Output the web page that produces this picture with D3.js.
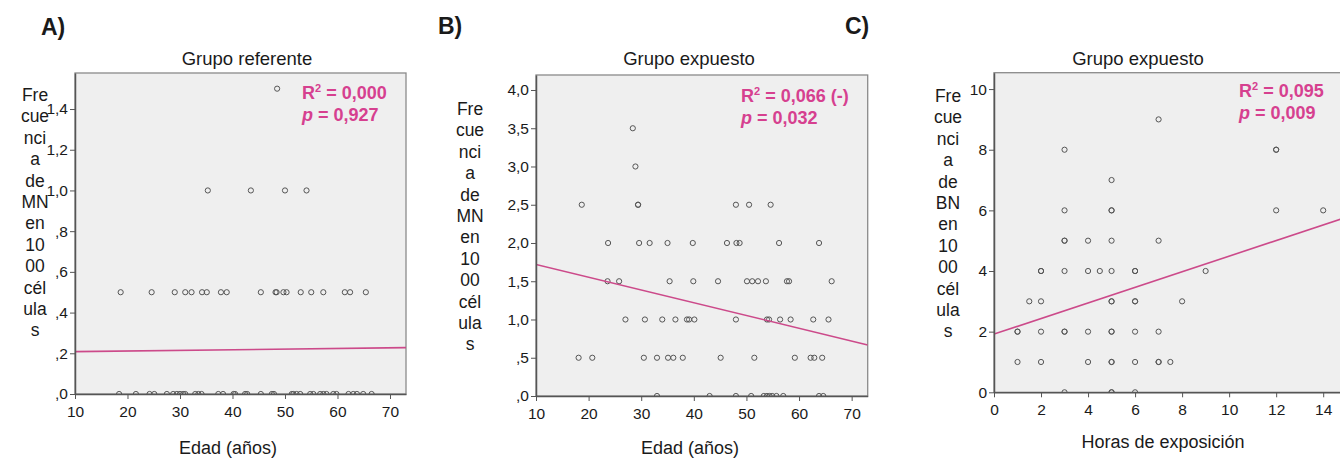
<!DOCTYPE html>
<html>
<head>
<meta charset="utf-8">
<script src="https://cdn.jsdelivr.net/npm/d3@7"></script>
<style>
  body { margin: 0; background: #fff; }
  svg text { font-family: "Liberation Sans", Arial, sans-serif; fill: #1a1a1a; }
  .tick line, .domain { stroke: #555; }
  .pt { fill: none; stroke: #555; stroke-width: 1; }
  .fit { fill: none; stroke: #cc4a8a; stroke-width: 1.6; }
  .stat { fill: #d6408f !important; font-weight: bold; font-size: 18px; }
</style>
</head>
<body>
<div id="chart"></div>
<script>
// ---- data ----

// A) Grupo referente: MN frequency levels and the ages found on each level
var refLevels = [1.5, 1.0, 0.5, 0.0];
var refAges = [
  [48.5],
  [35.3, 43.5, 50.0, 54.1],
  [18.7, 24.6, 29.0, 31.0, 32.2, 34.2, 35.1, 37.8, 38.9, 45.4, 48.2, 48.4, 49.7, 50.3, 53.0, 55.0, 57.3, 61.4, 62.4, 65.4],
  [18.4, 21.6, 24.2, 25.1, 27.5, 28.7, 29.4, 30.0, 30.6, 31.0, 32.9, 33.5, 34.1, 37.3, 38.2, 40.2, 40.5, 42.4, 42.8, 45.4,
   47.5, 47.9, 51.3, 51.6, 52.2, 52.9, 54.8, 55.4, 56.7, 57.3, 57.9, 59.2, 59.8, 62.1, 63.0, 63.7, 64.9, 66.5]
];
var refFit = {intercept: 0.205, slope: 0.00031};

// B) Grupo expuesto, MN vs age
var expLevels = [3.5, 3.0, 2.5, 2.0, 1.5, 1.0, 0.5, 0.0];
var expAges = [
  [28.4],
  [28.9],
  [18.7, 29.4, 29.4, 48.0, 50.5, 54.6],
  [23.7, 29.6, 31.6, 35.0, 39.8, 46.3, 48.1, 48.7, 56.2, 63.8],
  [23.6, 25.8, 35.4, 39.9, 44.6, 50.1, 51.1, 52.2, 53.7, 57.7, 58.1, 66.2],
  [27.0, 30.7, 34.0, 36.5, 38.7, 39.1, 40.1, 48.0, 53.9, 54.3, 56.4, 58.4, 62.7, 65.6],
  [18.1, 20.7, 30.5, 33.0, 35.1, 36.1, 37.9, 45.1, 51.5, 59.2, 62.2, 62.9, 64.4],
  [33.0, 43.0, 48.0, 50.9, 53.3, 53.9, 54.4, 54.9, 55.7, 57.0, 63.8, 64.6]
];
var expFit = {intercept: 1.887, slope: -0.0167};

// C) Grupo expuesto, BN vs hours of exposure
var bnLevels = [9, 8, 7, 6, 5, 4, 3, 2, 1, 0];
var bnHours = [
  [7],
  [3, 12, 12],
  [5],
  [3, 5, 5, 12, 14],
  [3, 3, 4, 5, 7],
  [2, 2, 3, 4, 4.5, 5, 6, 6, 9],
  [1.5, 2, 5, 5, 6, 6, 8],
  [1, 1, 2, 3, 3, 4, 5, 5, 6, 7],
  [1, 2, 4, 5, 5, 6, 7, 7, 7.5],
  [3, 5, 5, 6]
];
var bnFit = {intercept: 1.92, slope: 0.257};

var mnLabel = ["Fre", "cue", "nci", "a", "de", "MN", "en", "10", "00", "cél", "ula", "s"];
var bnLabel = ["Fre", "cue", "nci", "a", "de", "BN", "en", "10", "00", "cél", "ula", "s"];

// flatten levels + x values into point objects
function toPoints(levels, xs) {
  var out = [];
  levels.forEach(function(lv, i) {
    xs[i].forEach(function(x) { out.push({x: x, y: lv}); });
  });
  return out;
}

// SPSS style tick labels: ",4" , "1,4"
function spssFmt(d) {
  var s = d3.format(".1f")(d).replace(".", ",");
  if (s.indexOf("0,") === 0) s = s.slice(1);
  return s;
}

var svg = d3.select("#chart").append("svg")
    .attr("width", 1340)
    .attr("height", 458);

var panels = [
  {id: "a", letter: "A)", letterX: 41, letterY: 35, title: "Grupo referente", titleX: 247, titleY: 65,
   left: 75, right: 406, top: 73, bottom: 394,
   xDomain: [10, 73.05], yDomain: [0, 1.577], xTicks: d3.range(10, 71, 10), yTicks: d3.range(0, 1.41, 0.2),
   yFmt: spssFmt, points: toPoints(refLevels, refAges), fit: refFit,
   ylab: mnLabel, ylabX: 35, ylabY: 101, xlab: "Edad (años)", xlabX: 228, xlabY: 454,
   r2: "0,000", p: "0,927", statX: 302, statY: 99},
  {id: "b", letter: "B)", letterX: 438, letterY: 34, title: "Grupo expuesto", titleX: 689, titleY: 65,
   left: 536, right: 867.7, top: 75, bottom: 396,
   xDomain: [10, 73.05], yDomain: [0, 4.196], xTicks: d3.range(10, 71, 10), yTicks: d3.range(0, 4.01, 0.5),
   yFmt: spssFmt, points: toPoints(expLevels, expAges), fit: expFit,
   ylab: mnLabel, ylabX: 470, ylabY: 115, xlab: "Edad (años)", xlabX: 690, xlabY: 454,
   r2: "0,066 (-)", p: "0,032", statX: 741, statY: 102},
  {id: "c", letter: "C)", letterX: 845, letterY: 34, title: "Grupo expuesto", titleX: 1138, titleY: 65,
   left: 994, right: 1342, top: 72.7, bottom: 392.3,
   xDomain: [0, 14.8], yDomain: [0, 10.54], xTicks: d3.range(0, 15, 2), yTicks: d3.range(0, 11, 2),
   yFmt: d3.format("d"), points: toPoints(bnLevels, bnHours), fit: bnFit,
   ylab: bnLabel, ylabX: 948, ylabY: 102, xlab: "Horas de exposición", xlabX: 1163, xlabY: 448,
   r2: "0,095", p: "0,009", statX: 1239, statY: 97}
];

panels.forEach(drawPanel);

function drawPanel(c) {
  var x = d3.scaleLinear().domain(c.xDomain).range([c.left, c.right]);
  var y = d3.scaleLinear().domain(c.yDomain).range([c.bottom, c.top]);

  var g = svg.append("g").attr("class", "panel-" + c.id);

  // panel letter
  g.append("text")
    .attr("x", c.letterX).attr("y", c.letterY)
    .style("font-size", "23px").style("font-weight", "bold")
    .text(c.letter);

  // title
  g.append("text")
    .attr("x", c.titleX).attr("y", c.titleY)
    .attr("text-anchor", "middle")
    .style("font-size", "18.5px")
    .text(c.title);

  // plot background / frame
  g.append("rect")
    .attr("x", c.left).attr("y", c.top)
    .attr("width", c.right - c.left).attr("height", c.bottom - c.top)
    .attr("fill", "#efefef")
    .attr("stroke", "#8a8a8a")
    .attr("stroke-width", 1.3);

  // clip so points sitting on 0 are cut in half like the original
  svg.append("clipPath").attr("id", "clip-" + c.id)
    .append("rect")
    .attr("x", c.left).attr("y", c.top)
    .attr("width", c.right - c.left).attr("height", c.bottom - c.top);

  var plot = g.append("g").attr("clip-path", "url(#clip-" + c.id + ")");

  plot.selectAll(".pt")
    .data(c.points)
    .enter().append("circle")
    .attr("class", "pt")
    .attr("cx", function(d) { return x(d.x); })
    .attr("cy", function(d) { return y(d.y); })
    .attr("r", 2.6);

  // linear fit line
  var fx = c.xDomain;
  plot.append("line")
    .attr("class", "fit")
    .attr("x1", x(fx[0])).attr("y1", y(c.fit.intercept + c.fit.slope * fx[0]))
    .attr("x2", x(fx[1])).attr("y2", y(c.fit.intercept + c.fit.slope * fx[1]));

  // axes
  g.append("g")
    .attr("transform", "translate(" + c.left + ",0)")
    .call(d3.axisLeft(y).tickValues(c.yTicks).tickFormat(c.yFmt).tickSize(5).tickSizeOuter(0).tickPadding(2))
    .call(function(a) {
      a.selectAll("text").style("font-size", "15.5px").attr("fill", "#1a1a1a");
      a.select(".domain").attr("stroke-width", 1.5);
    });

  g.append("g")
    .attr("transform", "translate(0," + c.bottom + ")")
    .call(d3.axisBottom(x).tickValues(c.xTicks).tickFormat(d3.format("d")).tickSize(5).tickSizeOuter(0).tickPadding(7))
    .call(function(a) {
      a.selectAll("text").style("font-size", "15.5px").attr("fill", "#1a1a1a");
      a.select(".domain").attr("stroke-width", 1.5);
    });

  // stacked y-axis label
  var yl = g.append("text")
    .attr("text-anchor", "middle")
    .style("font-size", "17.5px");
  yl.selectAll("tspan")
    .data(c.ylab)
    .enter().append("tspan")
    .attr("x", c.ylabX)
    .attr("y", function(d, i) { return c.ylabY + i * 21.4; })
    .text(function(d) { return d; });

  // x-axis label
  g.append("text")
    .attr("x", c.xlabX).attr("y", c.xlabY)
    .attr("text-anchor", "middle")
    .style("font-size", "18px")
    .text(c.xlab);

  // R2 / p annotation
  var s1 = g.append("text").attr("class", "stat").attr("x", c.statX).attr("y", c.statY);
  s1.append("tspan").text("R");
  s1.append("tspan").attr("dy", -7).style("font-size", "11px").text("2");
  s1.append("tspan").attr("dy", 7).text(" = " + c.r2);

  var s2 = g.append("text").attr("class", "stat").attr("x", c.statX).attr("y", c.statY + 22);
  s2.append("tspan").style("font-style", "italic").text("p");
  s2.append("tspan").text(" = " + c.p);
}
</script>
</body>
</html>
